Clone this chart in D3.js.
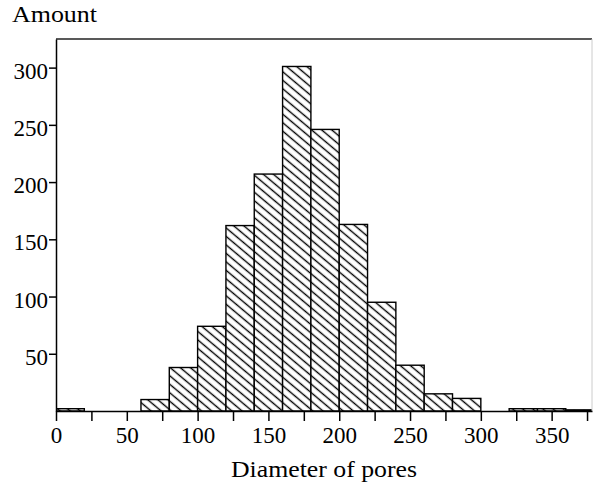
<!DOCTYPE html>
<html>
<head>
<meta charset="utf-8">
<script src="https://cdn.jsdelivr.net/npm/d3@7"></script>
<style>
  body { margin: 0; background: #fff; }
  svg { display: block; }
  text { font-family: "Liberation Serif", "Times New Roman", serif; fill: #000; }
</style>
</head>
<body>
<svg id="chart"></svg>
<script>
// histogram data: pore diameter bins (width 20) and counts
const binStarts = [0, 20, 40, 60, 80, 100, 120, 140, 160, 180, 200, 220, 240, 260, 280, 300, 320, 340, 360];
const counts    = [2, 0, 0, 10, 38, 74, 162, 207, 301, 246, 163, 95, 40, 15, 11, 0, 2, 2, 1];
const binWidth = 20;
const xTicks = [0, 25, 50, 75, 100, 125, 150, 175, 200, 225, 250, 275, 300, 325, 350, 375];
const yTicks = [50, 100, 150, 200, 250, 300];

const width = 593, height = 488;
const plotLeft = 56, plotRight = 592, plotTop = 39, plotBottom = 411;

const bins = binStarts.map((s, i) => ({start: s, count: counts[i]}));

const svg = d3.select("#chart")
    .attr("width", width)
    .attr("height", height);

//Scales
const x = d3.scaleLinear().domain([0, 378.5]).range([plotLeft, plotRight]);
const y = d3.scaleLinear().domain([0, 325]).range([plotBottom, plotTop]);

//Hatch pattern
const defs = svg.append("defs");
const pat = defs.append("pattern")
    .attr("id", "hatch")
    .attr("patternUnits", "userSpaceOnUse")
    .attr("width", 12)
    .attr("height", 6.5)
    .attr("patternTransform", "rotate(40)");
pat.append("rect").attr("width", 12).attr("height", 6.5).attr("fill", "#fff");
pat.append("line")
    .attr("x1", 0).attr("x2", 12)
    .attr("y1", 3.25).attr("y2", 3.25)
    .attr("stroke", "#000")
    .attr("stroke-width", 1.4);

defs.append("clipPath").attr("id", "clip")
  .append("rect")
    .attr("x", plotLeft).attr("y", plotTop)
    .attr("width", plotRight - plotLeft).attr("height", plotBottom - plotTop);

//Bars
svg.append("g")
    .attr("clip-path", "url(#clip)")
  .selectAll("rect")
  .data(bins.filter(d => d.count > 0))
  .enter()
  .append("rect")
    .attr("x", d => x(d.start))
    .attr("y", d => y(d.count))
    .attr("width", d => x(d.start + binWidth) - x(d.start))
    .attr("height", d => y(0) - y(d.count))
    .attr("fill", "url(#hatch)")
    .attr("stroke", "#000")
    .attr("stroke-width", 1.4);

//Frame top and right
svg.append("line")
    .attr("x1", plotLeft).attr("x2", plotRight)
    .attr("y1", plotTop).attr("y2", plotTop)
    .attr("stroke", "#222").attr("stroke-width", 1.5);
svg.append("line")
    .attr("x1", plotRight).attr("x2", plotRight)
    .attr("y1", plotTop).attr("y2", plotBottom)
    .attr("stroke", "#ccc").attr("stroke-width", 1);

//X axis
const xAxis = svg.append("g")
    .attr("transform", "translate(0," + plotBottom + ")")
    .call(d3.axisBottom(x)
        .tickValues(xTicks)
        .tickSize(10)
        .tickSizeOuter(0)
        .tickPadding(6)
        .tickFormat(d => d % 50 === 0 ? d : ""));

//Y axis
const yAxis = svg.append("g")
    .attr("transform", "translate(" + plotLeft + ",0)")
    .call(d3.axisLeft(y)
        .tickValues(yTicks)
        .tickSize(7)
        .tickSizeOuter(0)
        .tickPadding(1));

[xAxis, yAxis].forEach(a => {
    a.selectAll("path, line").attr("stroke", "#000").attr("stroke-width", 1.5);
    a.selectAll("text")
        .style("font-family", "'Liberation Serif', serif")
        .style("font-size", "23px")
        .attr("fill", "#000");
});
yAxis.selectAll("text").attr("dy", "0.46em");

//Axis titles
svg.append("text")
    .attr("x", 12)
    .attr("y", 22)
    .attr("textLength", 85)
    .attr("lengthAdjust", "spacingAndGlyphs")
    .style("font-size", "23px")
    .text("Amount");

svg.append("text")
    .attr("x", (plotLeft + plotRight) / 2 - 93)
    .attr("y", 477)
    .attr("textLength", 186)
    .attr("lengthAdjust", "spacingAndGlyphs")
    .style("font-size", "23px")
    .text("Diameter of pores");
</script>
</body>
</html>
